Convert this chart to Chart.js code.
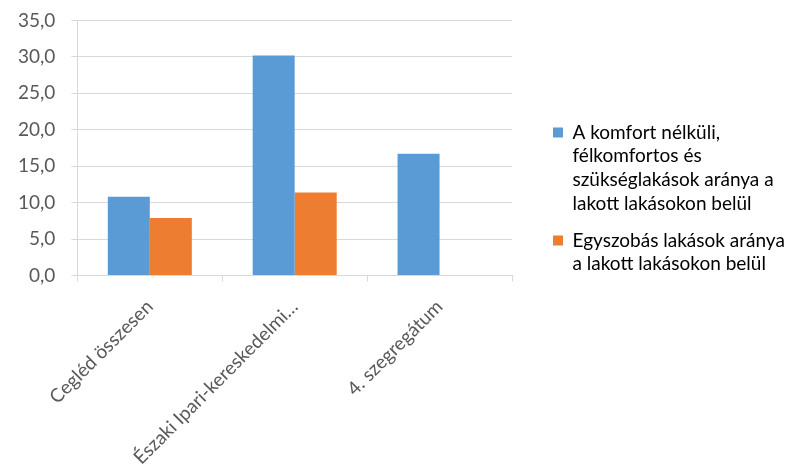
<!DOCTYPE html>
<html>
<head>
<meta charset="utf-8">
<script src="https://cdn.jsdelivr.net/npm/chart.js@4.4.1/dist/chart.umd.min.js"></script>
<style>
  html, body { margin: 0; padding: 0; background: #fff; }
  #wrap { width: 809px; height: 474px; }
</style>
</head>
<body>
<div id="wrap"><canvas id="c" width="809" height="474"></canvas></div>
<script>
const categories = ["Cegléd összesen", "Északi Ipari-kereskedelmi…", "4. szegregátum"];
const seriesNames = [
  "A komfort nélküli, félkomfortos és szükséglakások aránya a lakott lakásokon belül",
  "Egyszobás lakások aránya a lakott lakásokon belül"
];
const legendLines = [
  ["A komfort nélküli,", "félkomfortos és", "szükséglakások aránya a", "lakott lakásokon belül"],
  ["Egyszobás lakások aránya", "a lakott lakásokon belül"]
];
const komfortNelkuli = [10.8, 30.2, 16.7];
const egyszobas = [7.9, 11.4, null];

const FONT = "Lato, 'Open Sans', sans-serif";
const TXT = "#595959";
const FS = 19;

// Legend spacing helper: reserve a fixed width and leave a gap before the legend box
const legendGap = {
  id: 'legendGap',
  beforeInit(chart) {
    const lg = chart.legend;
    const origFit = lg.fit;
    lg.fit = function () {
      origFit.call(this);
      this.width = 297;
    };
  },
  afterLayout(chart) {
    const lg = chart.legend;
    lg.left += 28;
    lg.right += 28;
    lg.top += 16;
    lg.bottom += 16;
  }
};

new Chart(document.getElementById('c'), {
  type: 'bar',
  data: {
    labels: categories,
    datasets: [
      { label: seriesNames[0], data: komfortNelkuli, backgroundColor: '#5B9BD5', borderWidth: 0 },
      { label: seriesNames[1], data: egyszobas, backgroundColor: '#ED7D31', borderWidth: 0 }
    ]
  },
  plugins: [legendGap],
  options: {
    responsive: false,
    animation: false,
    devicePixelRatio: 1,
    layout: { padding: { top: 0, right: 0, left: 2, bottom: 2 } },
    datasets: { bar: { barPercentage: 1.0, categoryPercentage: 0.58 } },
    plugins: {
      tooltip: { enabled: false },
      legend: {
        position: 'right',
        align: 'end',
        fullSize: false,
        labels: {
          color: TXT,
          font: { family: FONT, size: FS, lineHeight: 1.25 },
          boxWidth: 10,
          boxHeight: 10,
          padding: 13,
          generateLabels: (chart) => chart.data.datasets.map((ds, i) => ({
            text: legendLines[i],
            fillStyle: ds.backgroundColor,
            strokeStyle: ds.backgroundColor,
            lineWidth: 0,
            hidden: false,
            datasetIndex: i
          }))
        }
      }
    },
    scales: {
      x: {
        afterFit: (scale) => { scale.height -= 11; },
        grid: { display: true, drawOnChartArea: false, offset: true, color: '#D9D9D9', tickLength: 6, lineWidth: 1 },
        border: { display: true, color: '#D9D9D9', width: 1 },
        ticks: {
          color: TXT,
          font: { family: FONT, size: FS },
          minRotation: 45, maxRotation: 45,
          padding: 14
        }
      },
      y: {
        min: 0, max: 35,
        afterFit: (scale) => { scale.paddingTop -= 7; },
        grid: { color: '#D9D9D9', lineWidth: 1, tickLength: 6 },
        border: { display: true, color: '#D9D9D9', width: 1 },
        ticks: {
          stepSize: 5,
          color: TXT,
          font: { family: FONT, size: FS },
          padding: 16,
          callback: (v) => v.toFixed(1).replace('.', ',')
        }
      }
    }
  }
});
</script>
</body>
</html>
